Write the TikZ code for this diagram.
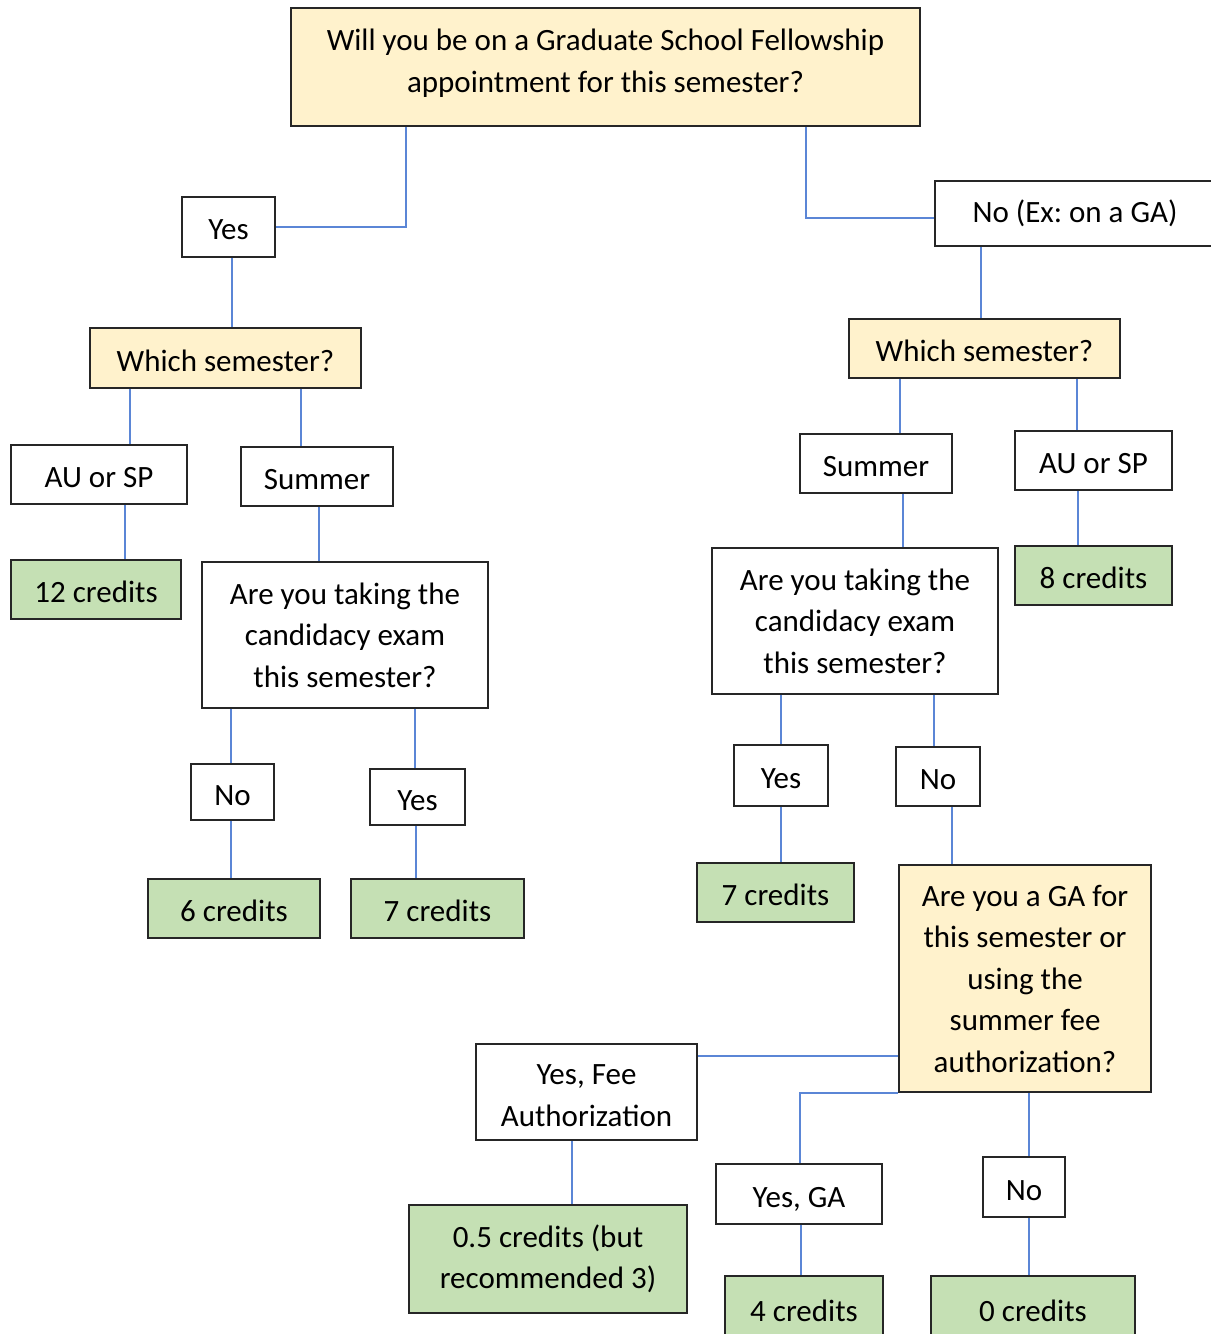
\documentclass[tikz,border=0pt]{standalone}
\usepackage{fontspec}
\setmainfont{Carlito}
\usetikzlibrary{calc}
\definecolor{qfill}{HTML}{FFF2CC}
\definecolor{rfill}{HTML}{C5E0B4}
\definecolor{linkblue}{HTML}{5B86D6}
\definecolor{edge}{HTML}{262626}
\tikzset{
  txt/.style={inner sep=0pt, align=center, font=\fontsize{31bp}{41.5bp}\selectfont},
  box/.style={txt, draw=edge, line width=1.6bp, rectangle},
  one/.style={text height=26bp, text depth=0pt},
  qbox/.style={box, fill=qfill},
  rbox/.style={box, fill=rfill},
  link/.style={draw=linkblue, line width=1.5bp},
}
\newcommand\vlink[3]{\draw[link] (#1.south -| #3,0) -- (#2.north -| #3,0);}
\begin{document}
\frenchspacing
\begin{tikzpicture}[x=1bp, y=-1bp]
\useasboundingbox (0,0) rectangle (1210,1334);
% nodes
\node[qbox, minimum width=629bp, minimum height=118bp] (top) at (605.5,67) {};
\node[txt] (topT) at ([yshift=4bp]top.center) {Will you be on a Graduate School Fellowship\\appointment for this semester?};
\node[box, one, minimum width=93bp, minimum height=60bp] (yes1) at (228.5,227) {Yes};
\node[box, minimum width=280bp, minimum height=65bp] (no1) at (1075,213.5) {No (Ex: on a GA)};
\node[qbox, one, minimum width=271bp, minimum height=60bp] (wsL) at (225.5,358) {Which semester?};
\node[qbox, one, minimum width=271bp, minimum height=59bp] (wsR) at (984.5,348.5) {Which semester?};
\node[box, one, minimum width=176bp, minimum height=59bp] (auL) at (99,474.5) {AU or SP};
\node[box, one, minimum width=152bp, minimum height=59bp] (sumL) at (317,476.5) {Summer};
\node[rbox, one, minimum width=170bp, minimum height=59bp] (c12) at (96,589.5) {12 credits};
\node[box, minimum width=286bp, minimum height=146bp] (candL) at (345,635) {Are you taking the\\candidacy exam\\this semester?};
\node[box, one, minimum width=83bp, minimum height=56bp] (noL) at (232.5,792) {No};
\node[box, one, minimum width=95bp, minimum height=56bp] (yesL) at (417.5,797) {Yes};
\node[rbox, one, minimum width=172bp, minimum height=59bp] (c6) at (234,908.5) {6 credits};
\node[rbox, one, minimum width=173bp, minimum height=59bp] (c7L) at (437.5,908.5) {7 credits};
\node[box, one, minimum width=152bp, minimum height=59bp] (sumR) at (876,463.5) {Summer};
\node[box, one, minimum width=157bp, minimum height=59bp] (auR) at (1093.5,460.5) {AU or SP};
\node[rbox, one, minimum width=157bp, minimum height=59bp] (c8) at (1093.5,575.5) {8 credits};
\node[box, minimum width=286bp, minimum height=146bp] (candR) at (855,621) {Are you taking the\\candidacy exam\\this semester?};
\node[box, one, minimum width=94bp, minimum height=61bp] (yesR) at (781,775.5) {Yes};
\node[box, one, minimum width=84bp, minimum height=59bp] (noR) at (938,776.5) {No};
\node[rbox, one, minimum width=157bp, minimum height=59bp] (c7R) at (775.5,892.5) {7 credits};
\node[qbox, minimum width=252bp, minimum height=227bp] (ga) at (1025,978.5) {Are you a GA for\\this semester or\\using the\\summer fee\\authorization?};
\node[box, minimum width=221bp, minimum height=96bp] (fee) at (586.5,1092) {};
\node[txt] (feeT) at ([yshift=-3.5bp]fee.center) {Yes, Fee\\Authorization};
\node[box, one, minimum width=166bp, minimum height=60bp] (yesGA) at (799,1194) {Yes, GA};
\node[box, one, minimum width=82bp, minimum height=60bp] (noB) at (1024,1187) {No};
\node[rbox, minimum width=278bp, minimum height=108bp] (c05) at (548,1259) {0.5 credits (but\\recommended 3)};
\node[rbox, one, minimum width=158bp, minimum height=64bp] (c4) at (804,1308) {4 credits};
\node[rbox, one, minimum width=204bp, minimum height=64bp] (c0) at (1033,1308) {0 credits};
% connectors
\draw[link] (top.south -| 406,0) |- (yes1.east);
\draw[link] (top.south -| 806,0) |- ([yshift=-4.5bp]no1.west);
\vlink{yes1}{wsL}{232}
\vlink{no1}{wsR}{981}
\vlink{wsL}{auL}{130}
\vlink{wsL}{sumL}{301}
\vlink{auL}{c12}{125}
\vlink{sumL}{candL}{319}
\vlink{candL}{noL}{231}
\vlink{candL}{yesL}{415}
\vlink{noL}{c6}{231}
\vlink{yesL}{c7L}{416}
\vlink{wsR}{sumR}{900}
\vlink{wsR}{auR}{1077}
\vlink{auR}{c8}{1078}
\vlink{sumR}{candR}{903}
\vlink{candR}{yesR}{781}
\vlink{candR}{noR}{934}
\vlink{yesR}{c7R}{781}
\vlink{noR}{ga}{952}
\draw[link] (ga.west |- 0,1056) -- (fee.east |- 0,1056);
\draw[link] (ga.south west) -| (yesGA.north -| 800,0);
\vlink{ga}{noB}{1029}
\vlink{fee}{c05}{572}
\vlink{yesGA}{c4}{801}
\vlink{noB}{c0}{1029}
\end{tikzpicture}
\end{document}
